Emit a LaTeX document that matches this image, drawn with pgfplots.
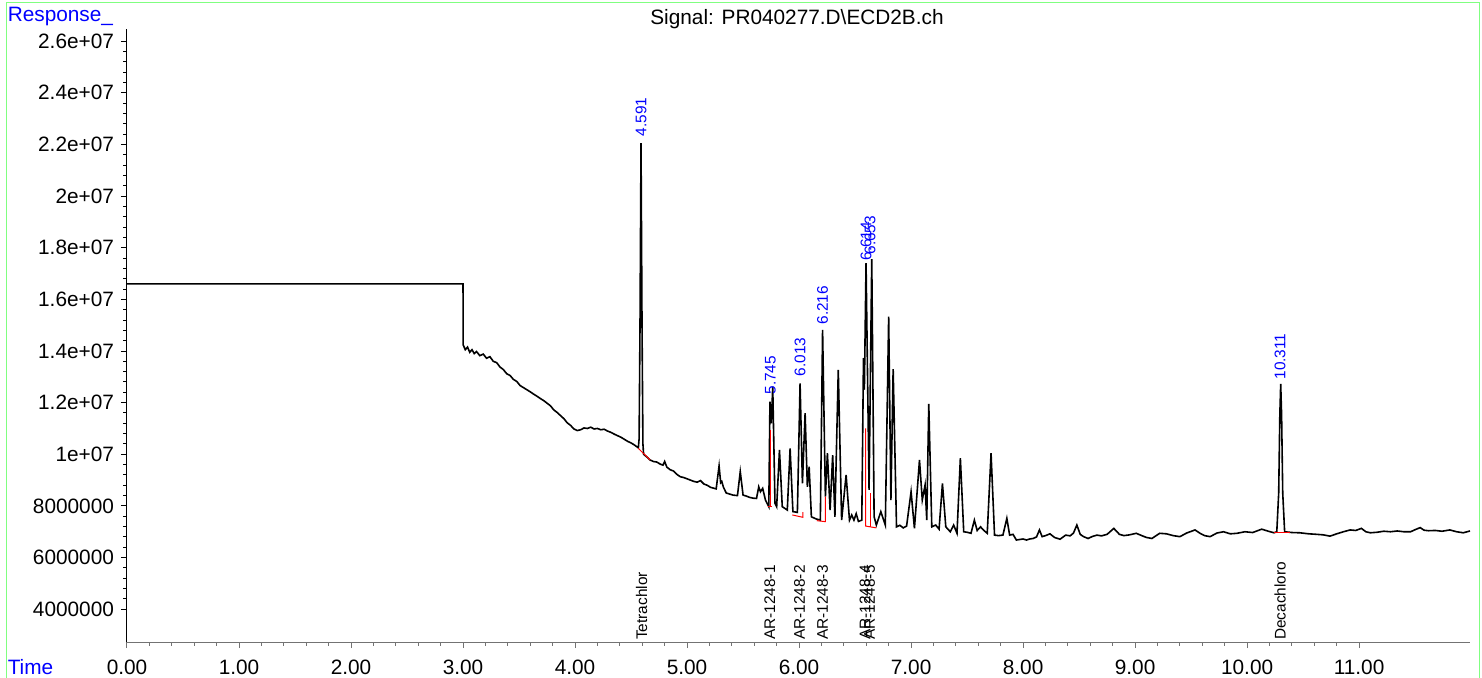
\documentclass[border=0pt]{standalone}
\usepackage{pgfplots}
\pgfplotsset{compat=1.18}
\usepackage{fontspec}
\setmainfont{Liberation Sans}
\definecolor{framegreen}{RGB}{128,255,128}
\newcommand{\mainfont}{\fontsize{10.4}{12}\selectfont}
\newcommand{\smallfont}{\fontsize{7.7}{9}\selectfont}

\begin{document}
\begin{tikzpicture}
\useasboundingbox (0,0) rectangle (741pt,338.5pt);
\draw[framegreen, line width=0.5pt] (3.35pt,-1pt) -- (3.35pt,337.35pt) -- (739.5pt,337.35pt) -- (739.5pt,-1pt);

\begin{axis}[
    at={(63.5pt,17.5pt)}, anchor=south west,
    scale only axis, width=671.5pt, height=306.5pt,
    xmin=0, xmax=11.99, ymin=2.73e6, ymax=2.647e7,
    axis x line*=bottom, axis y line*=left,
    axis line style={-, line width=0.5pt},
    x axis line style={draw=black!55},
    xtick={0,1,2,3,4,5,6,7,8,9,10,11},
    xticklabels={0.00,1.00,2.00,3.00,4.00,5.00,6.00,7.00,8.00,9.00,10.00,11.00},
    ytick={4000000,6000000,8000000,10000000,12000000,14000000,16000000,18000000,20000000,22000000,24000000,26000000},
    yticklabels={4000000,6000000,8000000,1e+07,1.2e+07,1.4e+07,1.6e+07,1.8e+07,2e+07,2.2e+07,2.4e+07,2.6e+07},
    scaled y ticks=false, scaled x ticks=false,
    minor x tick num=4, minor y tick num=4,
    tick align=outside, major tick length=3pt, minor tick length=1.8pt,
    xtick style={draw=black!55, line width=0.5pt},
    ytick style={draw=black, line width=0.5pt},
    ticklabel style={font=\mainfont},
    xticklabel style={yshift=-2.5pt},
    /pgf/number format/assume math mode=true,
]
% chromatogram trace
\addplot[black, line width=0.8pt] coordinates {
(0,16.6e6) (3.0,16.6e6) (3.001,14.24e6)
(3.02,14.05e6) (3.04,14.15e6) (3.06,13.95e6) (3.08,14.05e6) (3.10,13.9e6) (3.12,13.98e6)
(3.15,13.82e6) (3.18,13.88e6) (3.21,13.72e6) (3.24,13.78e6) (3.27,13.6e6) (3.30,13.55e6)
(3.33,13.38e6) (3.36,13.28e6) (3.39,13.12e6) (3.42,13.05e6) (3.45,12.9e6) (3.48,12.82e6)
(3.51,12.66e6) (3.54,12.58e6) (3.57,12.5e6) (3.60,12.42e6) (3.63,12.33e6) (3.66,12.25e6)
(3.69,12.16e6) (3.72,12.08e6) (3.75,11.98e6) (3.78,11.88e6) (3.81,11.72e6) (3.84,11.62e6)
(3.87,11.5e6) (3.90,11.38e6) (3.93,11.22e6) (3.96,11.12e6) (3.99,10.98e6) (4.02,10.92e6)
(4.05,10.95e6) (4.08,11.02e6) (4.11,11.0e6) (4.14,11.05e6) (4.17,10.98e6) (4.20,11.0e6)
(4.23,10.95e6) (4.26,10.97e6) (4.29,10.9e6) (4.32,10.85e6) (4.35,10.78e6) (4.38,10.72e6)
(4.41,10.66e6) (4.44,10.58e6) (4.47,10.5e6) (4.50,10.44e6) (4.53,10.36e6) (4.565,10.25e6)
(4.572,10.6e6) (4.580,15.0e6) (4.589,22.05e6) (4.598,15.0e6) (4.606,10.4e6) (4.612,10.0e6)
(4.64,9.9e6) (4.67,9.78e6) (4.70,9.72e6) (4.73,9.70e6) (4.76,9.62e6) (4.785,9.58e6)
(4.80,9.72e6) (4.82,9.5e6) (4.85,9.4e6) (4.88,9.35e6) (4.91,9.22e6) (4.94,9.13e6)
(4.97,9.1e6) (5.00,9.05e6) (5.03,9.0e6) (5.06,8.95e6) (5.09,8.92e6) (5.12,8.98e6)
(5.15,8.85e6) (5.18,8.8e6) (5.21,8.72e6) (5.26,8.66e6) (5.286,9.55e6) (5.30,8.9e6)
(5.31,8.95e6) (5.325,8.72e6) (5.35,8.5e6) (5.38,8.46e6) (5.41,8.42e6) (5.45,8.4e6)
(5.475,9.33e6) (5.50,8.42e6) (5.53,8.38e6) (5.56,8.33e6) (5.59,8.3e6) (5.62,8.29e6)
(5.64,8.74e6) (5.655,8.55e6) (5.675,8.68e6) (5.70,8.23e6) (5.73,7.97e6) (5.74,12.04e6)
(5.752,11.2e6) (5.765,12.62e6) (5.785,8.1e6) (5.80,7.97e6) (5.825,10.17e6) (5.85,7.97e6)
(5.895,7.84e6) (5.92,10.23e6) (5.945,7.78e6) (5.985,7.75e6) (6.009,12.75e6) (6.03,8.87e6)
(6.054,11.59e6) (6.074,8.74e6) (6.09,9.52e6) (6.11,7.58e6) (6.15,7.5e6) (6.19,7.45e6)
(6.21,14.82e6) (6.235,8.36e6) (6.253,10.04e6) (6.277,7.84e6) (6.30,9.97e6) (6.32,7.58e6)
(6.35,13.27e6) (6.38,7.45e6) (6.42,9.2e6) (6.45,7.45e6) (6.47,7.65e6) (6.49,7.45e6)
(6.51,7.7e6) (6.53,7.4e6) (6.56,7.45e6) (6.575,13.72e6) (6.583,12.5e6) (6.598,17.40e6)
(6.625,8.62e6) (6.649,17.56e6) (6.67,7.58e6) (6.69,7.26e6) (6.73,7.78e6) (6.77,7.26e6)
(6.80,15.33e6) (6.82,8.23e6) (6.84,13.30e6) (6.87,7.19e6) (6.90,7.25e6) (6.93,7.15e6)
(6.96,7.22e6) (7.00,8.55e6) (7.03,7.13e6) (7.075,9.78e6) (7.10,8.23e6) (7.125,8.81e6)
(7.14,7.45e6) (7.158,11.95e6) (7.185,7.19e6) (7.22,7.26e6) (7.25,7.1e6) (7.28,8.87e6)
(7.31,7.19e6) (7.35,7.0e6) (7.38,7.26e6) (7.41,6.94e6) (7.44,9.85e6) (7.47,7.0e6)
(7.50,6.98e6) (7.535,6.94e6) (7.565,7.45e6) (7.59,7.05e6) (7.62,7.19e6) (7.65,7.05e6)
(7.68,6.94e6) (7.714,10.04e6) (7.745,6.87e6) (7.78,6.85e6) (7.82,6.87e6) (7.855,7.52e6)
(7.88,6.87e6) (7.91,6.9e6) (7.94,6.68e6) (7.97,6.7e6) (8.00,6.72e6) (8.03,6.68e6)
(8.06,6.72e6) (8.09,6.74e6) (8.12,6.8e6) (8.146,7.07e6) (8.17,6.81e6) (8.20,6.85e6)
(8.24,6.92e6) (8.28,6.78e6) (8.33,6.71e6) (8.38,6.87e6) (8.42,6.84e6) (8.45,6.95e6)
(8.48,7.26e6) (8.51,6.9e6) (8.54,6.81e6) (8.58,6.74e6) (8.62,6.82e6) (8.66,6.87e6)
(8.70,6.84e6) (8.75,6.9e6) (8.81,7.13e6) (8.86,6.9e6) (8.90,6.85e6) (8.95,6.88e6)
(9.01,6.94e6) (9.06,6.85e6) (9.10,6.78e6) (9.15,6.74e6) (9.22,6.94e6) (9.28,6.92e6)
(9.34,6.85e6) (9.40,6.81e6) (9.46,6.95e6) (9.535,7.07e6) (9.58,6.94e6) (9.62,6.85e6)
(9.67,6.81e6) (9.73,6.95e6) (9.79,7.0e6) (9.85,6.92e6) (9.91,6.94e6) (9.98,7.0e6)
(10.05,6.97e6) (10.13,7.1e6) (10.19,7.02e6) (10.24,6.96e6) (10.265,7.0e6) (10.282,8.5e6)
(10.292,11.5e6) (10.30,12.73e6) (10.308,11.5e6) (10.318,8.5e6) (10.335,7.0e6) (10.40,6.97e6)
(10.47,6.96e6) (10.55,6.92e6) (10.62,6.9e6) (10.68,6.88e6) (10.74,6.83e6) (10.80,6.92e6)
(10.86,7.0e6) (10.92,7.07e6) (10.97,7.05e6) (11.02,7.13e6) (11.06,7.0e6) (11.10,6.96e6)
(11.16,6.98e6) (11.22,7.02e6) (11.28,7.0e6) (11.34,7.03e6) (11.40,7.0e6) (11.46,7.0e6)
(11.50,7.08e6) (11.545,7.16e6) (11.58,7.06e6) (11.62,7.04e6) (11.68,7.05e6) (11.74,7.02e6)
(11.81,7.07e6) (11.87,7.0e6) (11.93,6.96e6) (11.99,7.03e6)
};
% integration baselines
\addplot[red, line width=0.5pt] coordinates {(4.565,10.23e6) (4.67,9.78e6)};
\addplot[red, line width=0.5pt] coordinates {(5.72,7.97e6) (5.755,7.97e6)};
\addplot[red, line width=0.5pt] coordinates {(5.747,10.94e6) (5.747,7.97e6)};
\addplot[red, line width=0.5pt] coordinates {(5.94,7.65e6) (6.033,7.56e6) (6.033,7.76e6)};
\addplot[red, line width=0.5pt] coordinates {(6.158,7.43e6) (6.235,7.39e6) (6.235,8.36e6)};
\addplot[red, line width=0.5pt] coordinates {(6.595,11.0e6) (6.595,7.22e6) (6.69,7.15e6)};
\addplot[red, line width=0.5pt] coordinates {(6.634,8.49e6) (6.634,7.19e6)};
\addplot[red, line width=0.5pt] coordinates {(10.24,6.96e6) (10.38,6.96e6)};

% retention time labels
\begin{scope}[every node/.style={rotate=90, anchor=west, inner sep=0pt, text=blue, font=\smallfont}]
\node at (axis cs:4.589,22.30e6) {4.591};
\node at (axis cs:5.745,12.30e6) {5.745};
\node at (axis cs:6.009,13.01e6) {6.013};
\node at (axis cs:6.21,15.01e6) {6.216};
\node at (axis cs:6.598,17.49e6) {6.614};
\node at (axis cs:6.634,17.72e6) {6.653};
\node at (axis cs:10.295,12.88e6) {10.311};
\end{scope}
% compound names
\begin{scope}[every node/.style={rotate=90, anchor=west, inner sep=0pt, text=black, font=\smallfont}]
\node at (axis cs:4.595,2.80e6) {Tetrachlor};
\node at (axis cs:5.738,2.80e6) {AR-1248-1};
\node at (axis cs:6.004,2.80e6) {AR-1248-2};
\node at (axis cs:6.21,2.80e6) {AR-1248-3};
\node at (axis cs:6.59,2.80e6) {AR-1248-4};
\node at (axis cs:6.63,2.80e6) {AR-1248-5};
\node at (axis cs:10.295,2.80e6) {Decachloro};
\end{scope}
\end{axis}

\node[anchor=base, font=\mainfont, inner sep=0pt] at (398.5pt,326.5pt) {Signal: PR040277.D\textbackslash ECD2B.ch};
\node[anchor=base west, font=\mainfont, text=blue, inner sep=0pt] at (3.7pt,327.6pt) {Response\_};
\node[anchor=base west, font=\mainfont, text=blue, inner sep=0pt] at (3.7pt,1.5pt) {Time};
\end{tikzpicture}
\end{document}
